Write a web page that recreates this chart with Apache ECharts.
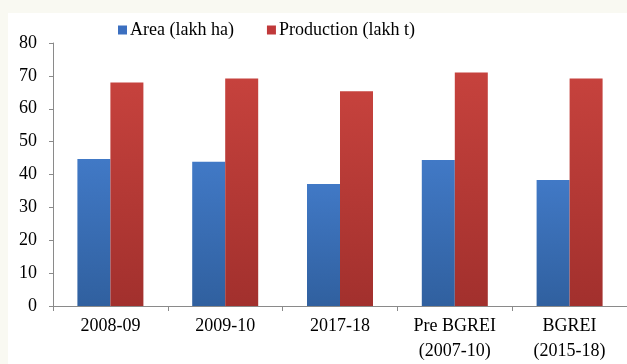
<!DOCTYPE html>
<html>
<head>
<meta charset="utf-8">
<script src="https://cdn.jsdelivr.net/npm/echarts@6/dist/echarts.min.js"></script>
<style>
  html, body { margin: 0; padding: 0; background: #f9f9f2; width: 627px; height: 364px; overflow: hidden; }
  #chart { position: absolute; left: 8px; top: 13px; width: 619px; height: 351px; background: #ffffff; }
</style>
</head>
<body>
<div id="chart"></div>
<script>
const categories = ['2008-09', '2009-10', '2017-18', 'Pre BGREI\n(2007-10)', 'BGREI\n(2015-18)'];
const areaValues = [44.7, 43.9, 37.1, 44.4, 38.3];
const productionValues = [68.0, 69.2, 65.3, 71.0, 69.2];
const seriesNames = ['Area (lakh ha)', 'Production (lakh t)'];
const yTicks = { min: 0, max: 80, interval: 10 };

const FONT = '"Liberation Serif", "DejaVu Serif", serif';
const chart = echarts.init(document.getElementById('chart'), null, { renderer: 'canvas' });

function grad(top, bottom) {
  return new echarts.graphic.LinearGradient(0, 0, 0, 1, [
    { offset: 0, color: top }, { offset: 1, color: bottom }
  ]);
}

chart.setOption({
  animation: false,
  backgroundColor: '#ffffff',
  textStyle: { fontFamily: FONT },
  legend: {
    top: 3,
    left: 105,
    itemWidth: 9,
    itemHeight: 9,
    itemGap: 33,
    icon: 'rect',
    textStyle: { fontFamily: FONT, fontSize: 18, color: '#000', padding: [0, 0, 0, -2] },
    data: [
      { name: seriesNames[0], itemStyle: { color: '#3b6fc0' } },
      { name: seriesNames[1], itemStyle: { color: '#c0393a' } }
    ]
  },
  grid: { left: 45, top: 30, width: 576, height: 269, containLabel: false },
  xAxis: {
    type: 'category',
    data: categories,
    axisLine: { lineStyle: { color: '#8a8a8a', width: 1 } },
    axisTick: { show: true, length: 5, alignWithLabel: false, lineStyle: { color: '#8a8a8a' } },
    axisLabel: { fontFamily: FONT, fontSize: 18, color: '#000', margin: 8, lineHeight: 25, interval: 0 }
  },
  yAxis: {
    type: 'value',
    min: yTicks.min,
    max: yTicks.max,
    interval: yTicks.interval,
    splitLine: { show: false },
    axisLine: { show: true, lineStyle: { color: '#8a8a8a', width: 1 } },
    axisTick: { show: true, length: 4, inside: false, lineStyle: { color: '#8a8a8a' } },
    axisLabel: { fontFamily: FONT, fontSize: 18, color: '#000', margin: 16 }
  },
  series: [
    {
      name: seriesNames[0],
      type: 'bar',
      data: areaValues,
      barWidth: 33,
      barGap: '0%',
      itemStyle: { color: grad('#4179c6', '#30609f') }
    },
    {
      name: seriesNames[1],
      type: 'bar',
      data: productionValues,
      barWidth: 33,
      barGap: '0%',
      itemStyle: { color: grad('#c6423d', '#a2302d') }
    }
  ]
});
</script>
</body>
</html>
